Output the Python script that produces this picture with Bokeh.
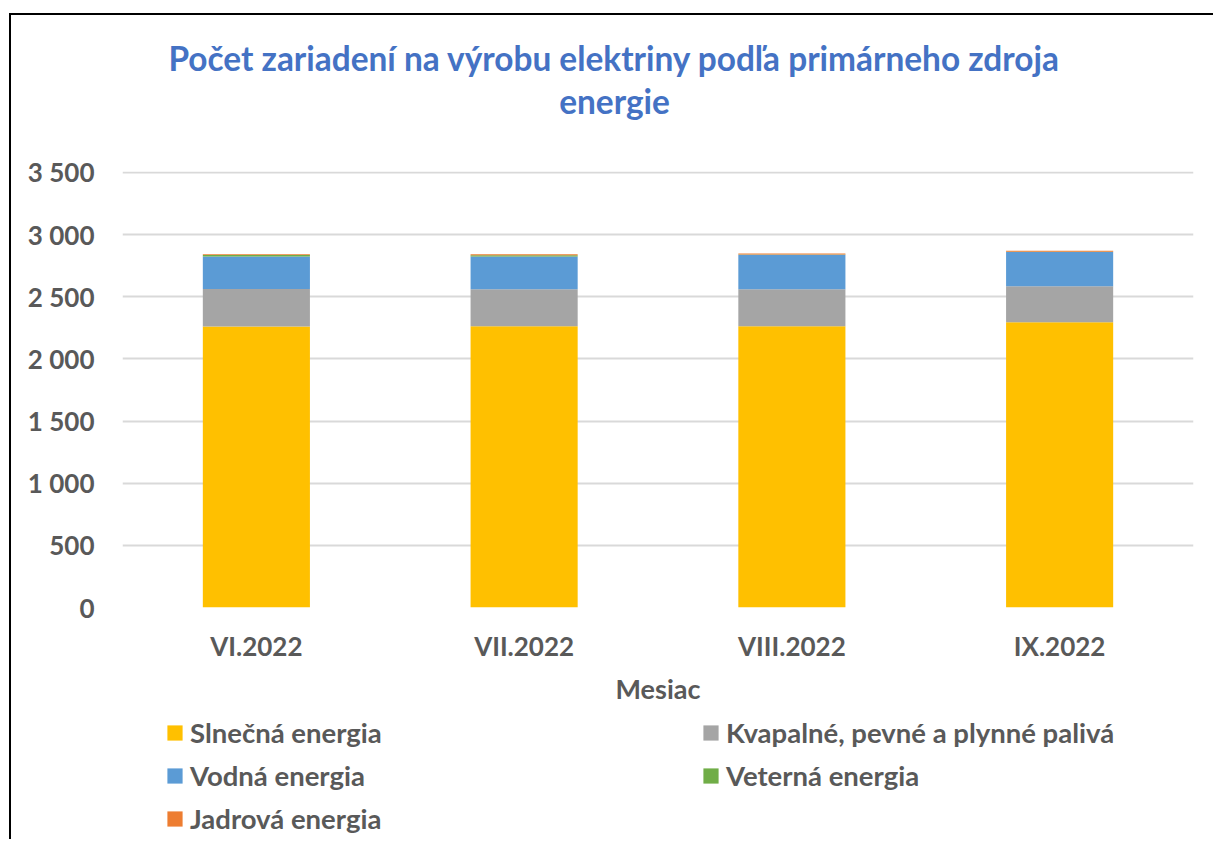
from bokeh.plotting import figure
from bokeh.layouts import column
from bokeh.models import Label, Legend, LegendItem, FixedTicker
from bokeh.embed import file_html
from bokeh.resources import INLINE

months = ["VI.2022", "VII.2022", "VIII.2022", "IX.2022"]
slnecna = [2260, 2262, 2262, 2295]
kvapalne = [302, 298, 299, 289]
vodna = [263, 265, 277, 276]
veterna = [12, 10, 3, 3]
jadrova = [6, 8, 8, 8]

series_names = ["Slnečná energia", "Kvapalné, pevné a plynné palivá", "Vodná energia",
                "Veterná energia", "Jadrová energia"]
series_keys = ["slnecna", "kvapalne", "vodna", "veterna", "jadrova"]
colors = ["#FFC000", "#A5A5A5", "#5B9BD5", "#70AD47", "#ED7D31"]

y_ticks = [0, 500, 1000, 1500, 2000, 2500, 3000, 3500]
y_tick_labels = ["0", "500", "1 000", "1 500", "2 000", "2 500", "3 000", "3 500"]

title_lines = ["Počet zariadení na výrobu elektriny podľa primárneho zdroja", "energie"]

data = dict(months=months, slnecna=slnecna, kvapalne=kvapalne, vodna=vodna,
            veterna=veterna, jadrova=jadrova)

FONT = "Lato"
GRAY = "#595959"
BLUE = "#4472C4"
W = 1202
LEFT = 111
RIGHT = 20
FRAME_W = W - LEFT - RIGHT


def blank(height):
    # frames of plots in a column are aligned, so the frame spans FRAME_W pixels
    f = figure(width=W, height=height, x_range=(0, FRAME_W), y_range=(0, height),
               x_axis_type=None, y_axis_type=None, output_backend="svg",
               toolbar_location=None, min_border=0,
               min_border_left=LEFT, min_border_right=RIGHT)
    f.outline_line_color = None
    f.grid.visible = False
    return f


# ---- title block (centred on the whole chart area)
ft = blank(136)
for txt, ypos in zip(title_lines, [94, 51]):
    ft.add_layout(Label(x=603 - LEFT, y=ypos, text=txt, text_align="center",
                        text_baseline="middle", text_font=FONT,
                        text_font_size="33.4px", text_font_style="bold",
                        text_color=BLUE))

# ---- chart
p = figure(x_range=months, y_range=(0, 3508), width=W, height=564,
           output_backend="svg", toolbar_location=None,
           min_border_left=LEFT, min_border_right=RIGHT, min_border_top=20,
           min_border_bottom=108)
p.outline_line_color = None

p.vbar_stack(series_keys, x="months", width=0.4, color=colors,
             line_color=None, source=data)

p.yaxis.ticker = FixedTicker(ticks=y_ticks)
p.yaxis.major_label_overrides = {t: l for t, l in zip(y_ticks, y_tick_labels)}
p.yaxis.major_label_text_font = FONT
p.yaxis.major_label_text_font_size = "26px"
p.yaxis.major_label_text_font_style = "bold"
p.yaxis.major_label_text_color = GRAY
p.yaxis.axis_line_color = None
p.yaxis.major_tick_line_color = None
p.yaxis.minor_tick_line_color = None
p.yaxis.major_tick_out = 0
p.yaxis.major_label_standoff = 28

p.xaxis.axis_label = "Mesiac"
p.xaxis.axis_label_text_font = FONT
p.xaxis.axis_label_text_font_size = "27px"
p.xaxis.axis_label_text_font_style = "bold"
p.xaxis.axis_label_text_color = GRAY
p.xaxis.axis_label_standoff = 7
p.xaxis.major_label_text_font = FONT
p.xaxis.major_label_text_font_size = "26px"
p.xaxis.major_label_text_font_style = "bold"
p.xaxis.major_label_text_color = GRAY
p.xaxis.axis_line_color = None
p.xaxis.major_tick_line_color = None
p.xaxis.major_tick_out = 0
p.xaxis.major_label_standoff = 22

p.xgrid.grid_line_color = None
p.ygrid.grid_line_color = "#D9D9D9"
p.ygrid.grid_line_width = 2

# ---- legend block (legend-only renderers, with no visible marks)
fl = blank(124)
nan = float("nan")
dummies = [fl.vbar(x=[nan], top=[nan], width=1, color=c, line_color=None)
           for c in colors]
items = [LegendItem(label=n, renderers=[r]) for n, r in zip(series_names, dummies)]
legend = Legend(items=items, orientation="horizontal", ncols=2,
                location=(43, 4), padding=0, margin=0, spacing=9,
                glyph_width=19, glyph_height=19, label_standoff=6,
                label_width=502, label_height=34,
                label_text_font=FONT, label_text_font_size="27.5px",
                label_text_font_style="bold", label_text_color=GRAY,
                background_fill_alpha=0, border_line_color=None)
fl.add_layout(legend, "center")

layout = column(ft, p, fl, spacing=0)
layout.margin = (13, 0, 0, 9)
layout.styles = {"border-left": "2px solid black", "border-top": "2px solid black"}

open("out.html", "w").write(file_html(layout, INLINE))
